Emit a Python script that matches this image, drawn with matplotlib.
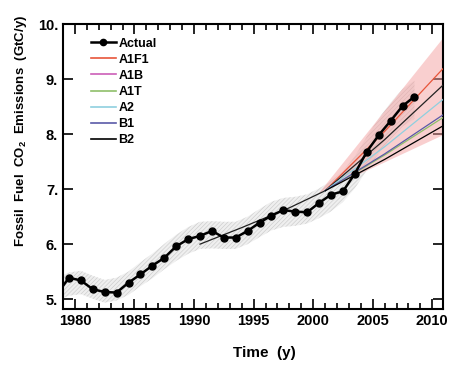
import matplotlib
matplotlib.use('Agg')
import matplotlib.pyplot as plt
from matplotlib.ticker import MultipleLocator, FormatStrFormatter
from matplotlib.lines import Line2D
import numpy as np

plt.rcParams['font.family'] = ['Liberation Sans', 'DejaVu Sans']
plt.rcParams['font.weight'] = 'bold'
plt.rcParams['mathtext.fontset'] = 'custom'
plt.rcParams['mathtext.rm'] = 'Liberation Sans:bold'
plt.rcParams['mathtext.bf'] = 'Liberation Sans:bold'
plt.rcParams['mathtext.default'] = 'rm'
plt.rcParams['hatch.linewidth'] = 0.4

# observed fossil fuel emissions (GtC/y), plotted at mid-year
years = [1978.5, 1979.5, 1980.5, 1981.5, 1982.5, 1983.5, 1984.5, 1985.5, 1986.5, 1987.5,
         1988.5, 1989.5, 1990.5, 1991.5, 1992.5, 1993.5, 1994.5, 1995.5, 1996.5, 1997.5,
         1998.5, 1999.5, 2000.5, 2001.5, 2002.5, 2003.5, 2004.5, 2005.5, 2006.5, 2007.5, 2008.5]
actual = [5.09, 5.39, 5.34, 5.18, 5.13, 5.12, 5.30, 5.45, 5.61, 5.75,
          5.96, 6.09, 6.15, 6.24, 6.12, 6.12, 6.24, 6.39, 6.52, 6.62,
          6.59, 6.58, 6.75, 6.90, 6.96, 7.28, 7.68, 7.98, 8.24, 8.51, 8.68]
band_frac = 0.04  # relative uncertainty of observations

# common IPCC SRES path before the scenarios split
base_years = [1990.5, 1994, 1998, 2001]
base_vals = [6.0, 6.3, 6.66, 6.97]

# scenario paths 2001 -> 2010.9
scen_years = [2001, 2006, 2010.9]
scen_names = ['A1F1', 'A1B', 'A1T', 'A2', 'B1', 'B2']
scen_vals = {
    'A1F1': [6.97, 8.05, 9.19],
    'A1B': [6.97, 7.90, 8.89],
    'A1T': [6.97, 7.62, 8.30],
    'A2': [6.97, 7.77, 8.63],
    'B1': [6.97, 7.64, 8.35],
    'B2': [6.97, 7.54, 8.15],
}
legend_colors = ['#e8553a', '#cc5fb8', '#8fbf6a', '#8fd0df', '#5a5aa8', 'black']
line_colors = ['#e8553a', '#222222', '#8fbf6a', '#8fd0df', '#5a5aa8', 'black']
# envelope of scenarios
env_years = [2000.5, 2010.9]
env_low = [6.93, 7.98]
env_high = [6.93, 9.74]

fig = plt.figure(figsize=(4.68, 3.76), dpi=100)
ax = fig.add_axes([0.1346, 0.178, 0.812, 0.758])

act = np.array(actual)
smooth = np.convolve(np.r_[act[0], act, act[-1]], [1/3, 1/3, 1/3], mode='valid')
ax.fill_between(years, smooth * (1 - band_frac), smooth * (1 + band_frac),
                facecolor='#efefef', edgecolor='#c8c8c8', hatch='////////', linewidth=0, zorder=1)

ax.fill_between(env_years, env_low, env_high, facecolor='#f4a0a0', alpha=0.5,
                linewidth=0, zorder=2)

ax.plot(base_years, base_vals, color='#222222', lw=0.9, zorder=3)
for name, c in zip(scen_names, line_colors):
    ax.plot(scen_years, scen_vals[name], color=c, lw=0.9, zorder=3)

ax.plot(years, actual, color='black', lw=1.8, marker='o', ms=5, zorder=4)

ax.set_xlim(1979, 2010.9)
ax.set_ylim(4.82, 10.0)
ax.xaxis.set_major_locator(MultipleLocator(5))
ax.xaxis.set_minor_locator(MultipleLocator(1))
ax.yaxis.set_major_locator(MultipleLocator(1))
ax.yaxis.set_major_formatter(FormatStrFormatter('%d.'))
ax.tick_params(which='both', direction='in', top=True, right=True, width=1.2, labelsize=10.5)
ax.tick_params(which='major', length=7)
ax.tick_params(which='minor', length=4)
for s in ax.spines.values():
    s.set_linewidth(1.5)

ax.set_xlabel('Time  (y)', fontsize=11, fontweight='bold')
ax.set_ylabel('Fossil  Fuel  CO$_2$  Emissions  (GtC/y)', fontsize=9.5, fontweight='bold')
ax.xaxis.set_label_coords(0.53, -0.13)
ax.yaxis.set_label_coords(-0.089, 0.625)

handles = [Line2D([], [], color='black', lw=1.8, marker='o', ms=4.5)]
handles += [Line2D([], [], color=c, lw=1.2) for c in legend_colors]
ax.legend(handles, ['Actual'] + scen_names, loc='upper left', frameon=False,
          prop={'size': 9, 'weight': 'bold'}, handlelength=2.0, handletextpad=0.2,
          labelspacing=0.33, bbox_to_anchor=(0.06, 0.97), borderaxespad=0)

fig.savefig('out.png', dpi=100)
